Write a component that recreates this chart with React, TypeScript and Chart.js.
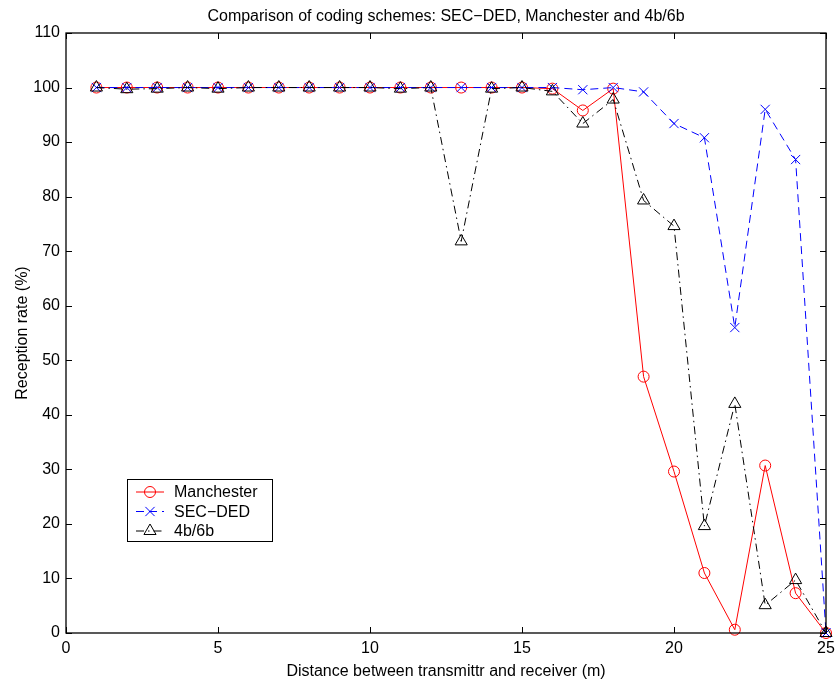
import React, { useEffect, useRef } from 'react';
import { Chart, registerables } from 'chart.js';

Chart.register(...registerables);

const distances = [1, 2, 3, 4, 5, 6, 7, 8, 9, 10, 11, 12, 13, 14, 15, 16, 17, 18, 19, 20, 21, 22, 23, 24, 25];
const manchester = [100, 100, 100, 100, 100, 100, 100, 100, 100, 100, 100, 100, 100, 100, 100, 99.8, 95.8, 99.8, 47, 29.6, 11, 0.6, 30.7, 7.3, 0];
const secDed = [100, 100, 100, 100, 100, 100, 100, 100, 100, 100, 100, 100, 100, 100, 100, 100, 99.6, 100, 99.2, 93.4, 90.8, 56, 96, 86.8, 0];
const fourB6B = [100, 99.7, 99.8, 100, 99.8, 100, 100, 100, 100, 100, 99.8, 100, 71.8, 99.8, 100, 99.3, 93.4, 97.8, 79.3, 74.6, 19.6, 42, 5.1, 9.7, 0];
const xTicks = [0, 5, 10, 15, 20, 25];
const yTicks = [0, 10, 20, 30, 40, 50, 60, 70, 80, 90, 100, 110];
const seriesNames = ['Manchester', 'SEC\u2212DED', '4b/6b'];
const titleText = 'Comparison of coding schemes: SEC\u2212DED, Manchester and 4b/6b';
const xTitle = 'Distance between transmittr and receiver (m)';
const yTitle = 'Reception rate (%)';

const FONT = '"Liberation Sans", Arial, Helvetica, sans-serif';

function drawMarker(ctx: CanvasRenderingContext2D, style: string, x: number, y: number, r: number, color: string) {
  ctx.save();
  ctx.setLineDash([]);
  ctx.strokeStyle = color;
  ctx.lineWidth = 1;
  ctx.beginPath();
  if (style === 'circle') {
    ctx.arc(x, y, r, 0, Math.PI * 2);
  } else if (style === 'crossRot') {
    const o = Math.cos(Math.PI / 4) * r;
    ctx.moveTo(x - o, y - o);
    ctx.lineTo(x + o, y + o);
    ctx.moveTo(x + o, y - o);
    ctx.lineTo(x - o, y + o);
  } else if (style === 'triangle') {
    let rad = 0;
    ctx.moveTo(x + Math.sin(rad) * r, y - Math.cos(rad) * r);
    rad += (2 * Math.PI) / 3;
    ctx.lineTo(x + Math.sin(rad) * r, y - Math.cos(rad) * r);
    rad += (2 * Math.PI) / 3;
    ctx.lineTo(x + Math.sin(rad) * r, y - Math.cos(rad) * r);
    ctx.closePath();
  }
  ctx.stroke();
  ctx.restore();
}

const framePlugin = {
  id: 'matlabFrame',
  afterDraw(chart: any) {
    const ctx: CanvasRenderingContext2D = chart.ctx;
    const a = chart.chartArea;
    const xs = chart.scales.x;
    const ys = chart.scales.y;
    ctx.save();
    ctx.strokeStyle = '#000';
    ctx.lineWidth = 1;
    ctx.beginPath();
    const tl = 6;
    xTicks.forEach((v) => {
      const px = Math.round(xs.getPixelForValue(v)) + 0.5;
      ctx.moveTo(px, a.bottom);
      ctx.lineTo(px, a.bottom - tl);
      ctx.moveTo(px, a.top);
      ctx.lineTo(px, a.top + tl);
    });
    yTicks.forEach((v) => {
      const py = Math.round(ys.getPixelForValue(v)) + 0.5;
      ctx.moveTo(a.left, py);
      ctx.lineTo(a.left + tl, py);
      ctx.moveTo(a.right, py);
      ctx.lineTo(a.right - tl, py);
    });
    ctx.stroke();
    ctx.lineWidth = 1.3;
    ctx.strokeRect(a.left, a.top, a.right - a.left, a.bottom - a.top);

    ctx.fillStyle = '#000';
    ctx.font = '16px ' + FONT;
    ctx.textAlign = 'center';
    ctx.textBaseline = 'alphabetic';
    ctx.fillText(titleText, (a.left + a.right) / 2, 21);
    ctx.fillText(xTitle, (a.left + a.right) / 2, 676);
    ctx.save();
    ctx.translate(27, (a.top + a.bottom) / 2);
    ctx.rotate(-Math.PI / 2);
    ctx.fillText(yTitle, 0, 0);
    ctx.restore();

    const lx = 127.5, ly = 479.5, lw = 145, lh = 62;
    ctx.fillStyle = '#fff';
    ctx.fillRect(lx, ly, lw, lh);
    ctx.strokeStyle = '#000';
    ctx.lineWidth = 1;
    ctx.strokeRect(lx, ly, lw, lh);
    const rows = [492, 511.5, 531];
    chart.data.datasets.forEach((ds: any, i: number) => {
      const y = rows[i];
      ctx.save();
      ctx.strokeStyle = ds.borderColor;
      ctx.lineWidth = 1;
      ctx.setLineDash(ds.borderDash || []);
      ctx.beginPath();
      ctx.moveTo(136, y);
      ctx.lineTo(164, y);
      ctx.stroke();
      ctx.restore();
      drawMarker(ctx, ds.pointStyle, 150, y, ds.pointRadius, ds.borderColor);
      ctx.fillStyle = '#000';
      ctx.font = '16px ' + FONT;
      ctx.textAlign = 'left';
      ctx.textBaseline = 'middle';
      ctx.fillText(ds.label, 174, y + 1);
    });
    ctx.restore();
  },
};

export default function App() {
  const ref = useRef<HTMLCanvasElement | null>(null);
  useEffect(() => {
    if (!ref.current) return;
    const mk = (x: number[], y: number[]) => x.map((v, i) => ({ x: v, y: y[i] }));
    const chart = new Chart(ref.current, {
      type: 'line',
      data: {
        datasets: [
          {
            label: seriesNames[0],
            data: mk(distances, manchester),
            borderColor: '#ff0000',
            backgroundColor: 'rgba(0,0,0,0)',
            borderWidth: 1,
            pointStyle: 'circle',
            pointRadius: 5.5,
            pointBorderWidth: 1,
            pointBackgroundColor: 'rgba(0,0,0,0)',
            pointBorderColor: '#ff0000',
            tension: 0,
            fill: false,
            clip: false,
            order: 3,
          } as any,
          {
            label: seriesNames[1],
            data: mk(distances, secDed),
            borderColor: '#0000ff',
            backgroundColor: 'rgba(0,0,0,0)',
            borderWidth: 1,
            borderDash: [8, 5],
            pointStyle: 'crossRot',
            pointRadius: 6.5,
            pointBorderWidth: 1,
            pointBackgroundColor: 'rgba(0,0,0,0)',
            pointBorderColor: '#0000ff',
            tension: 0,
            fill: false,
            clip: false,
            order: 2,
          } as any,
          {
            label: seriesNames[2],
            data: mk(distances, fourB6B),
            borderColor: '#000000',
            backgroundColor: 'rgba(0,0,0,0)',
            borderWidth: 1,
            borderDash: [8, 4, 1.5, 4],
            pointStyle: 'triangle',
            pointRadius: 7,
            pointBorderWidth: 1,
            pointBackgroundColor: 'rgba(0,0,0,0)',
            pointBorderColor: '#000000',
            tension: 0,
            fill: false,
            clip: false,
            order: 1,
          } as any,
        ],
      },
      options: {
        animation: false,
        responsive: false,
        maintainAspectRatio: false,
        layout: { padding: { left: 0, top: 33, right: 12, bottom: 0 } },
        plugins: {
          legend: { display: false },
          title: { display: false },
          tooltip: { enabled: false },
        },
        scales: {
          x: {
            type: 'linear',
            min: 0,
            max: 25,
            afterBuildTicks: (s: any) => {
              s.ticks = xTicks.map((v) => ({ value: v }));
            },
            afterFit: (s: any) => {
              s.height = 48;
              s.paddingLeft = 0;
              s.paddingRight = 0;
            },
            ticks: {
              color: '#000',
              font: { family: FONT, size: 16 },
              padding: 6,
              maxRotation: 0,
              autoSkip: false,
            },
            grid: { display: false, drawTicks: false },
            border: { display: false },
          },
          y: {
            type: 'linear',
            min: 0,
            max: 110,
            afterBuildTicks: (s: any) => {
              s.ticks = yTicks.map((v) => ({ value: v }));
            },
            afterFit: (s: any) => {
              s.width = 66;
              s.paddingTop = 0;
              s.paddingBottom = 0;
            },
            ticks: {
              color: '#000',
              font: { family: FONT, size: 16 },
              padding: 6,
              autoSkip: false,
            },
            grid: { display: false, drawTicks: false },
            border: { display: false },
          },
        },
      },
      plugins: [framePlugin],
    } as any);
    return () => chart.destroy();
  }, []);
  return (
    <div style={{ position: 'absolute', left: 0, top: 0, width: 838, height: 681, background: '#fff' }}>
      <canvas ref={ref} width={838} height={681} style={{ display: 'block', width: 838, height: 681 }} />
    </div>
  );
}
